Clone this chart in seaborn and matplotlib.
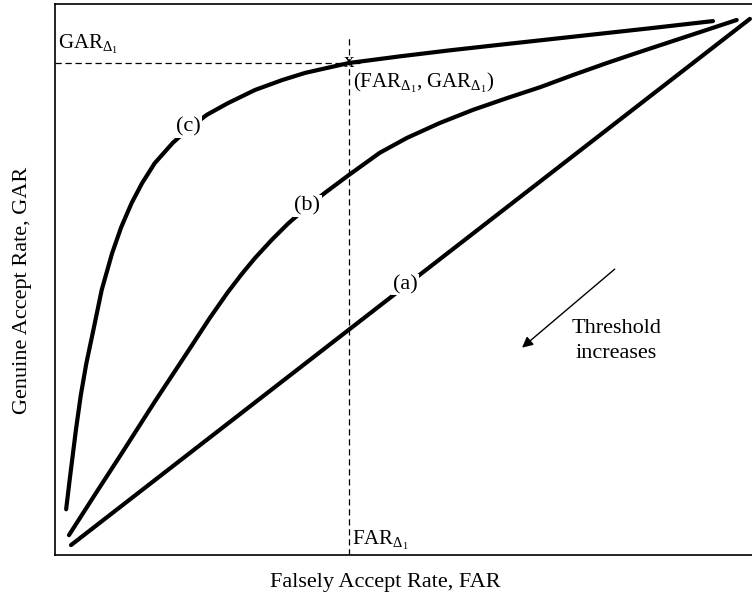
import matplotlib
matplotlib.use("Agg")
import matplotlib.pyplot as plt
import seaborn as sns
import pandas as pd

# ---- data (normalised 0..1) ----
far_a = [0.023, 0.997]
gar_a = [0.018, 0.973]

far_b = [0.020, 0.057, 0.096, 0.143, 0.191, 0.222, 0.248, 0.268, 0.287, 0.311,
         0.334, 0.362, 0.387, 0.422, 0.466, 0.505, 0.552, 0.600, 0.648, 0.696,
         0.743, 0.792, 0.839, 0.887, 0.935, 0.978]
gar_b = [0.036, 0.109, 0.185, 0.278, 0.370, 0.430, 0.477, 0.510, 0.539, 0.572,
         0.601, 0.632, 0.657, 0.690, 0.730, 0.757, 0.784, 0.808, 0.829, 0.849,
         0.871, 0.893, 0.913, 0.933, 0.953, 0.971]

far_c = [0.016, 0.021, 0.030, 0.037, 0.045, 0.055, 0.067, 0.082, 0.095, 0.110,
         0.125, 0.143, 0.169, 0.191, 0.218, 0.248, 0.287, 0.326, 0.359, 0.422,
         0.495, 0.567, 0.638, 0.710, 0.782, 0.854, 0.944]
gar_c = [0.083, 0.136, 0.227, 0.290, 0.348, 0.408, 0.481, 0.548, 0.595, 0.639,
         0.675, 0.711, 0.748, 0.773, 0.799, 0.820, 0.844, 0.862, 0.875, 0.893,
         0.905, 0.916, 0.926, 0.936, 0.946, 0.956, 0.969]

curve_labels = ["(a)", "(b)", "(c)"]
label_pos = [(0.502, 0.491), (0.362, 0.634), (0.191, 0.777)]

far_d1 = 0.422
gar_d1 = 0.893

sns.set_theme(style="white")
plt.rcParams["font.family"] = ["Liberation Serif", "DejaVu Serif"]
plt.rcParams["mathtext.fontset"] = "custom"
plt.rcParams["mathtext.rm"] = "Liberation Serif"
plt.rcParams["mathtext.it"] = "Liberation Serif:italic"
plt.rcParams["text.color"] = "black"
plt.rcParams["axes.labelcolor"] = "black"

fig = plt.figure(figsize=(7.52, 5.94), dpi=100)
ax = fig.add_axes([55 / 752, (594 - 555) / 594, 700 / 752, 551 / 594])

frames = [
    pd.DataFrame({"FAR": far_a, "GAR": gar_a, "curve": "(a)"}),
    pd.DataFrame({"FAR": far_b, "GAR": gar_b, "curve": "(b)"}),
    pd.DataFrame({"FAR": far_c, "GAR": gar_c, "curve": "(c)"}),
]
df = pd.concat(frames, ignore_index=True)
sns.lineplot(data=df, x="FAR", y="GAR", units="curve", estimator=None, sort=False,
             color="black", linewidth=3.0, ax=ax, legend=False)
for ln in ax.get_lines():
    ln.set_solid_joinstyle("round")
    ln.set_solid_capstyle("round")

# curve labels with white background to break the line
for lab, (lx, ly) in zip(curve_labels, label_pos):
    ax.text(lx, ly, lab, fontsize=16, ha="center", va="center", zorder=5,
            bbox=dict(facecolor="white", edgecolor="none", pad=1.0))

# dashed guide lines
ax.plot([0, far_d1 + 0.015], [gar_d1, gar_d1], color="black", lw=0.9,
        dashes=(5, 3))
ax.plot([far_d1, far_d1], [0, 0.942], color="black", lw=0.9, dashes=(5, 3))
ax.text(far_d1, gar_d1, "x", fontsize=15, ha="center", va="center", zorder=6)

ax.text(0.005, 0.905, r"GAR$_{\Delta_1}$", fontsize=15, ha="left", va="bottom")
ax.text(far_d1 + 0.004, 0.005, r"FAR$_{\Delta_1}$", fontsize=15, ha="left",
        va="bottom")
ax.text(far_d1 + 0.005, 0.878, r"(FAR$_{\Delta_1}$, GAR$_{\Delta_1}$)",
        fontsize=15, ha="left", va="top")

# threshold arrow
ax.annotate("", xy=(0.667, 0.373), xytext=(0.806, 0.522),
            arrowprops=dict(arrowstyle="-|>", color="black", lw=1.0,
                            mutation_scale=16))
ax.text(0.805, 0.388, "Threshold\nincreases", fontsize=16, ha="center",
        va="center", linespacing=1.45)

ax.set_xlim(0, 1.0043)
ax.set_ylim(0, 1)
ax.set_xticks([])
ax.set_yticks([])
ax.set_xlabel("Falsely Accept Rate, FAR", fontsize=16)
ax.set_ylabel("Genuine Accept Rate, GAR", fontsize=16)
ax.xaxis.set_label_coords(0.472, -0.032, transform=ax.transAxes)
ax.yaxis.set_label_coords(-0.047, 0.48, transform=ax.transAxes)
ax.xaxis.label.set_va("top")
ax.yaxis.label.set_va("center")

for side in ["left", "bottom", "top"]:
    ax.spines[side].set_color("black")
    ax.spines[side].set_linewidth(1.2)
ax.spines["right"].set_visible(False)

fig.savefig("out.png", dpi=100)
